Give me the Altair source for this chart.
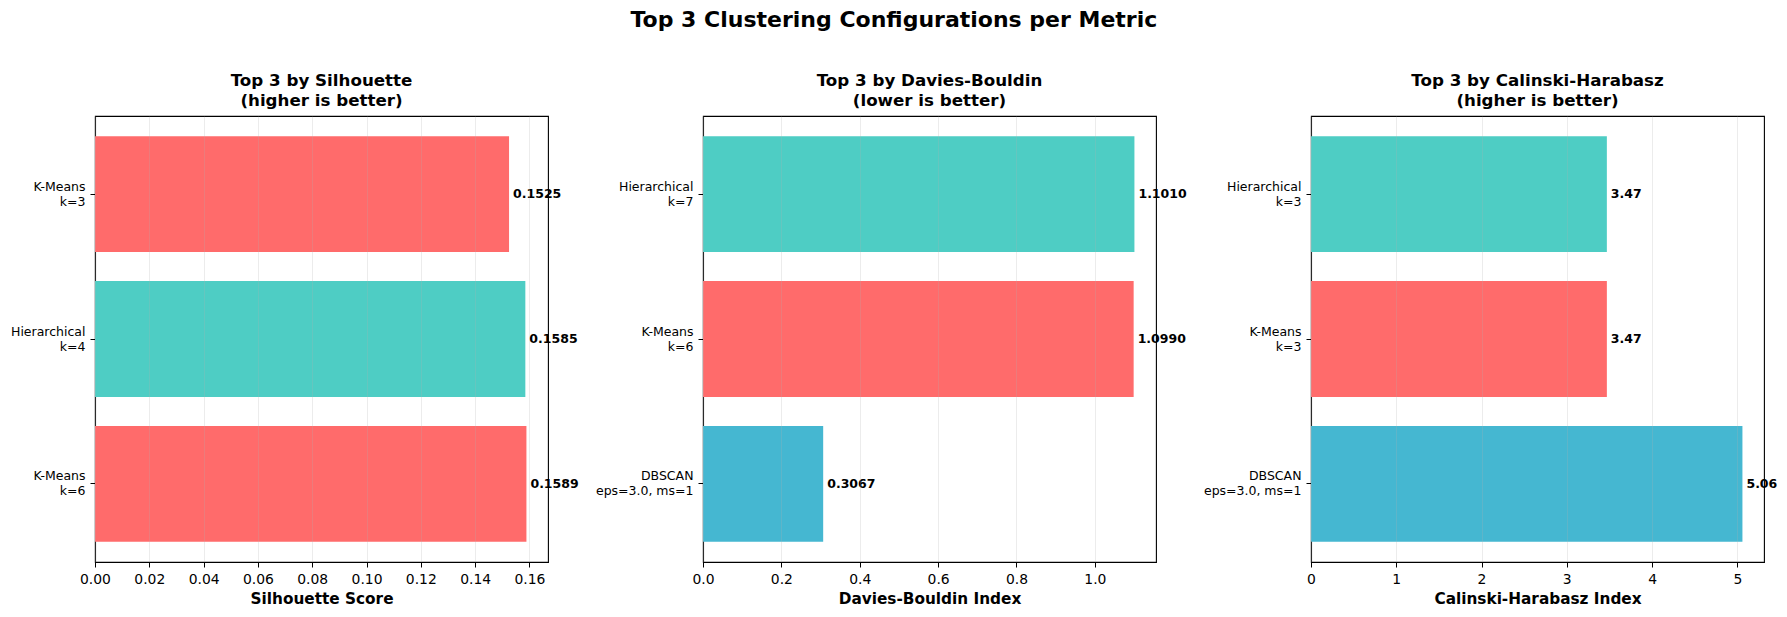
import altair as alt
import pandas as pd

FONT = "DejaVu Sans"

# Panel 1: Silhouette (bottom -> top)
sil_labels = ["K-Means\nk=6", "Hierarchical\nk=4", "K-Means\nk=3"]
sil_values = [0.1589, 0.1585, 0.1525]
sil_methods = ["K-Means", "Hierarchical", "K-Means"]
sil_ticks = [0.0, 0.02, 0.04, 0.06, 0.08, 0.10, 0.12, 0.14, 0.16]

# Panel 2: Davies-Bouldin (bottom -> top)
db_labels = ["DBSCAN\neps=3.0, ms=1", "K-Means\nk=6", "Hierarchical\nk=7"]
db_values = [0.3067, 1.0990, 1.1010]
db_methods = ["DBSCAN", "K-Means", "Hierarchical"]
db_ticks = [0.0, 0.2, 0.4, 0.6, 0.8, 1.0]

# Panel 3: Calinski-Harabasz (bottom -> top)
ch_labels = ["DBSCAN\neps=3.0, ms=1", "K-Means\nk=3", "Hierarchical\nk=3"]
ch_values = [5.06, 3.47, 3.47]
ch_methods = ["DBSCAN", "K-Means", "Hierarchical"]
ch_ticks = [0, 1, 2, 3, 4, 5]

method_domain = ["K-Means", "Hierarchical", "DBSCAN"]
method_colors = ["#FF6B6B", "#4ECDC4", "#45B7D1"]

PW, PH = 453, 446


def panel(labels, values, methods, title_lines, xtitle, ticks, tick_fmt, val_fmt):
    df = pd.DataFrame({"label": labels, "value": values, "method": methods})
    order = labels[::-1]
    xmax = max(values) * 1.05
    xscale = alt.Scale(domain=[0, xmax], nice=False, zero=True)
    yenc = alt.Y(
        "label:N",
        sort=order,
        scale=alt.Scale(paddingInner=0.2, paddingOuter=0.14),
        axis=alt.Axis(
            title=None,
            labelExpr="split(datum.label, '\\n')",
            labelFontSize=12.5,
            labelLineHeight=15,
            labelAlign="right",
            labelBaseline="middle",
            labelOffset=-7.5,
            grid=False,
            tickSize=5,
            labelPadding=5,
        ),
    )
    bars = alt.Chart(df).mark_bar().encode(
        x=alt.X(
            "value:Q",
            scale=xscale,
            axis=alt.Axis(
                values=ticks,
                format=tick_fmt,
                title=xtitle,
                grid=True,
                gridColor="#b0b0b0",
                gridOpacity=0.3,
                gridWidth=0.8,
                zindex=1,
                labelFontSize=13.9,
                labelFlush=False,
                labelOverlap=False,
                tickSize=5,
                labelPadding=5,
                titleFontSize=15.3,
                titleFontWeight="bold",
                titlePadding=6,
            ),
        ),
        y=yenc,
        color=alt.Color(
            "method:N",
            scale=alt.Scale(domain=method_domain, range=method_colors),
            legend=None,
        ),
    )
    text = alt.Chart(df).mark_text(
        align="left",
        baseline="middle",
        dx=4,
        fontSize=12.5,
        fontWeight="bold",
        font=FONT,
        color="black",
    ).encode(
        x=alt.X("value:Q", scale=xscale),
        y=alt.Y("label:N", sort=order),
        text=alt.Text("value:Q", format=val_fmt),
    )
    return alt.layer(bars, text).properties(
        width=PW,
        height=PH,
        title=alt.TitleParams(
            text=title_lines,
            fontSize=16.7,
            fontWeight="bold",
            font=FONT,
            lineHeight=20,
            offset=6,
            anchor="middle",
        ),
    )


p1 = panel(sil_labels, sil_values, sil_methods,
           ["Top 3 by Silhouette", "(higher is better)"],
           "Silhouette Score", sil_ticks, ".2f", ".4f")
p2 = panel(db_labels, db_values, db_methods,
           ["Top 3 by Davies-Bouldin", "(lower is better)"],
           "Davies-Bouldin Index", db_ticks, ".1f", ".4f")
p3 = panel(ch_labels, ch_values, ch_methods,
           ["Top 3 by Calinski-Harabasz", "(higher is better)"],
           "Calinski-Harabasz Index", ch_ticks, "d", ".2f")

chart = alt.hconcat(p1, p2, p3, spacing=155, bounds="flush").properties(
    title=alt.TitleParams(
        text="Top 3 Clustering Configurations per Metric",
        fontSize=22,
        fontWeight="bold",
        font=FONT,
        anchor="middle",
        offset=41,
    ),
    padding={"left": 9, "top": 8, "right": 5, "bottom": 8},
    background="white",
).configure_view(
    stroke="black", strokeWidth=1.1
).configure_axis(
    domainColor="black",
    tickColor="black",
    labelColor="black",
    titleColor="black",
    labelFont=FONT,
    titleFont=FONT,
    domainWidth=1.1,
)

chart.save("out.html", embed_options={"renderer": "svg", "actions": False})
